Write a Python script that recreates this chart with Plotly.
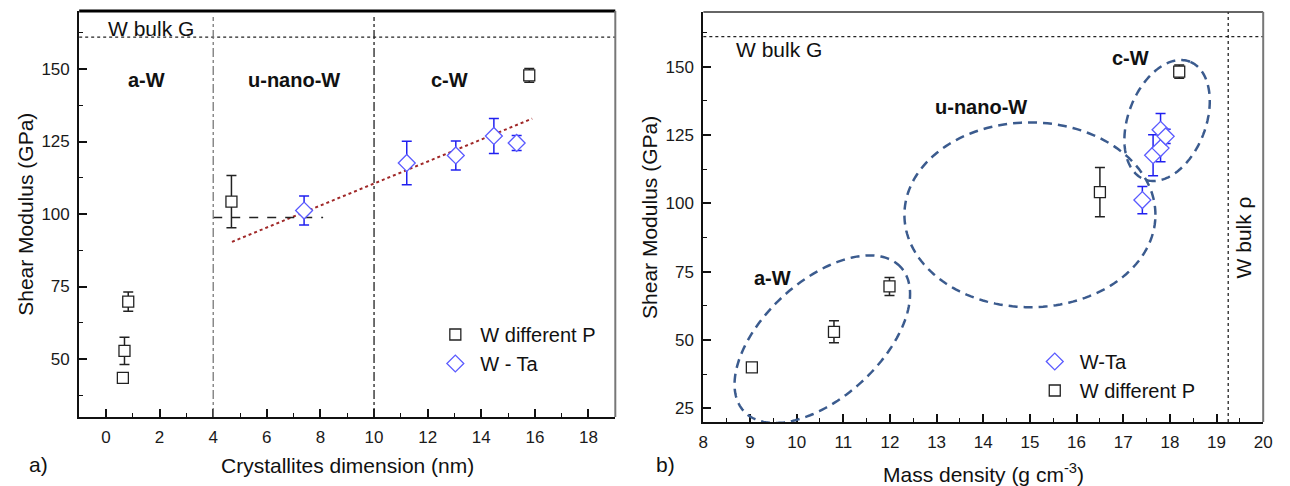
import numpy as np
import plotly.graph_objects as go

FONT = "Liberation Sans, Arial, sans-serif"

# ---- panel a): shear modulus vs crystallite size ----
size_wp = [0.63, 0.69, 0.83, 4.68, 15.79]
g_wp = [43.5, 52.8, 69.8, 104.3, 147.8]
g_wp_err = [0.0, 4.7, 3.3, 9.0, 2.4]

size_wta = [7.39, 11.22, 13.05, 14.47, 15.32]
g_wta = [101.2, 117.6, 120.2, 126.9, 124.5]
g_wta_err = [5.0, 7.5, 5.0, 6.0, 2.6]

trend_x = [4.7, 15.9]
trend_y = [90.4, 132.9]
unano_level = 98.8
unano_span = [4.0, 8.1]
region_bounds = [4, 10]

# ---- panel b): shear modulus vs mass density ----
rho_wp = [9.04, 10.80, 11.99, 16.50, 18.20]
g_wp_b = [40.0, 53.0, 69.6, 104.1, 148.2]
g_wp_b_err = [0.0, 4.0, 3.3, 9.0, 2.4]
rho_wta = [17.41, 17.64, 17.80, 17.80, 17.91]

W_BULK_G = 161.0
W_BULK_RHO = 19.25

# ellipse outlines: centre, two half-axis vectors (data units)
ellipses = {
    "a-W": dict(c=(10.55, 50.3), u=(1.69, 26.2), v=(-0.826, 15.9)),
    "u-nano-W": dict(c=(15.0, 95.8), u=(2.69, 0.0), v=(0.0, 33.8)),
    "c-W": dict(c=(17.94, 130.3), u=(0.491, 21.5), v=(-0.772, 5.25)),
}

BLUE_EDGE = "#5b5bff"
BLUE_BAR = "#2020f0"
BLACK = "#222222"
ELL = "#3b5b8e"

fig = go.Figure()

def add_series(x, y, err, name, symbol, size, edge, bar, xa, ya, legend):
    fig.add_trace(go.Scatter(
        x=x, y=y, mode="markers", name=name,
        xaxis=xa, yaxis=ya, legend=legend,
        marker=dict(symbol=symbol, size=size, color="white",
                    line=dict(color=edge, width=1.3)),
        error_y=dict(type="data", array=err, visible=True,
                     color=bar, thickness=1.5, width=5),
    ))

# panel a
fig.add_trace(go.Scatter(x=trend_x, y=trend_y, mode="lines", showlegend=False,
                         line=dict(color="#a02828", width=2, dash="dot"),
                         xaxis="x", yaxis="y"))
fig.add_trace(go.Scatter(x=unano_span, y=[unano_level, unano_level], mode="lines",
                         showlegend=False, line=dict(color=BLACK, width=1.3, dash="dash"),
                         xaxis="x", yaxis="y"))
add_series(size_wp, g_wp, g_wp_err, "W different P", "square", 11, BLACK, BLACK,
           "x", "y", "legend")
add_series(size_wta, g_wta, g_wta_err, "W - Ta", "diamond", 13, BLUE_EDGE, BLUE_BAR,
           "x", "y", "legend")

# panel b
add_series(rho_wta, g_wta, g_wta_err, "W-Ta", "diamond", 13, BLUE_EDGE, BLUE_BAR,
           "x2", "y2", "legend2")
add_series(rho_wp, g_wp_b, g_wp_b_err, "W different P", "square", 11, BLACK, BLACK,
           "x2", "y2", "legend2")

shapes = []
# reference levels
shapes.append(dict(type="line", xref="x domain", yref="y", x0=0, x1=1,
                   y0=W_BULK_G, y1=W_BULK_G, line=dict(color=BLACK, width=1.3, dash="dot")))
shapes.append(dict(type="line", xref="x2 domain", yref="y2", x0=0, x1=1,
                   y0=W_BULK_G, y1=W_BULK_G, line=dict(color=BLACK, width=1.3, dash="dot")))
shapes.append(dict(type="line", xref="x2", yref="y2 domain", x0=W_BULK_RHO, x1=W_BULK_RHO,
                   y0=0, y1=1, line=dict(color=BLACK, width=1.3, dash="dot")))
# region boundaries
for xb, col in zip(region_bounds, ["#777777", "#222222"]):
    shapes.append(dict(type="line", xref="x", yref="y domain", x0=xb, x1=xb, y0=0, y1=0.985,
                       line=dict(color=col, width=1.3, dash="dashdot")))

# ellipses
t = np.linspace(0, 2 * np.pi, 181)
for e in ellipses.values():
    cx, cy = e["c"]
    ux, uy = e["u"]
    vx, vy = e["v"]
    ex = cx + ux * np.cos(t) + vx * np.sin(t)
    ey = cy + uy * np.cos(t) + vy * np.sin(t)
    path = "M " + " L ".join(f"{a:.4f},{b:.4f}" for a, b in zip(ex, ey)) + " Z"
    shapes.append(dict(type="path", xref="x2", yref="y2", path=path,
                       line=dict(color=ELL, width=2.5, dash="9px,6px")))

# frame edges
shapes += [
    dict(type="line", xref="x domain", yref="y domain", x0=0, x1=1, y0=1, y1=1,
         line=dict(color="#000000", width=3)),
    dict(type="line", xref="x domain", yref="y domain", x0=1, x1=1, y0=0, y1=1,
         line=dict(color="#777777", width=2)),
    dict(type="line", xref="x2 domain", yref="y2 domain", x0=0, x1=1, y0=1, y1=1,
         line=dict(color="#333333", width=1.5)),
    dict(type="line", xref="x2 domain", yref="y2 domain", x0=1, x1=1, y0=0, y1=1,
         line=dict(color="#777777", width=2)),
]

def txt(text, x, y, xref, yref, size=21, bold=False, xanchor="center", **kw):
    return dict(text=f"<b>{text}</b>" if bold else text, x=x, y=y, xref=xref, yref=yref,
                xanchor=xanchor, yanchor="middle", showarrow=False,
                font=dict(family=FONT, size=size, color="#111111"), **kw)

annotations = [
    # panel a labels
    txt("W bulk G", 0, 163.8, "x", "y", xanchor="left"),
    txt("a-W", 1.5, 146.3, "x", "y", size=20, bold=True),
    txt("u-nano-W", 7.0, 146.3, "x", "y", size=20, bold=True),
    txt("c-W", 12.8, 146.3, "x", "y", size=20, bold=True),
    txt("Shear Modulus (GPa)", 20, 214, "paper", "paper", textangle=-90),
    txt("Crystallites dimension (nm)", 346, 465, "paper", "paper"),
    txt("a)", 34, 464, "paper", "paper"),
    # panel b labels
    txt("W bulk G", 8.66, 156.1, "x2", "y2", xanchor="left"),
    txt("a-W", 9.48, 72.7, "x2", "y2", size=20, bold=True),
    txt("u-nano-W", 13.95, 135.4, "x2", "y2", size=20, bold=True),
    txt("c-W", 17.16, 153.2, "x2", "y2", size=20, bold=True),
    txt("W bulk ρ", 1253, 237, "paper", "paper", textangle=-90),
    txt("Shear Modulus (GPa)", 651, 217, "paper", "paper", textangle=-90),
    txt("Mass density (g cm<sup>-3</sup>)", 989, 473, "paper", "paper"),
    txt("b)", 668, 464, "paper", "paper"),
]
W, H = 1290, 486
for a in annotations:
    if a["xref"] == "paper":
        a["x"] = a["x"] / W
    if a["yref"] == "paper":
        a["y"] = 1 - a["y"] / H

def xax(domain, rng, dtick, mdtick, anchor):
    return dict(domain=domain, range=rng, dtick=dtick, tick0=0, anchor=anchor,
                ticks="inside", ticklen=8, tickwidth=1.5, tickcolor="#111111",
                showline=True, linecolor="#111111", linewidth=2, mirror=False,
                showgrid=False, zeroline=False, ticklabelstandoff=4,
                tickfont=dict(family=FONT, size=17, color="#1a1a1a"),
                minor=dict(ticks="inside", ticklen=4, dtick=mdtick, tick0=0,
                           tickcolor="#111111", tickwidth=1.3))

layout_axes = dict(
    xaxis=xax([75 / W, 617 / W], [-1, 19], 2, 1, "y"),
    yaxis=xax([1 - 417 / H, 1 - 11 / H], [30, 170], 25, 12.5, "x"),
    xaxis2=xax([706 / W, 1272 / W], [8, 20], 1, 0.5, "y2"),
    yaxis2=xax([1 - 422 / H, 1 - 12 / H], [20, 170], 25, 12.5, "x2"),
)

legend_style = dict(bgcolor="rgba(0,0,0,0)", borderwidth=0,
                    font=dict(family=FONT, size=20, color="#111111"),
                    xanchor="left", yanchor="top", tracegroupgap=0, itemwidth=40)

fig.update_layout(
    width=W, height=H,
    margin=dict(l=0, r=0, t=0, b=0),
    paper_bgcolor="white", plot_bgcolor="white",
    font=dict(family=FONT, color="#111111"),
    shapes=shapes, annotations=annotations,
    legend=dict(x=430 / W, y=1 - 315 / H, **legend_style),
    legend2=dict(x=1036 / W, y=1 - 342 / H, **legend_style),
    **layout_axes,
)

fig.write_html("out.html")
